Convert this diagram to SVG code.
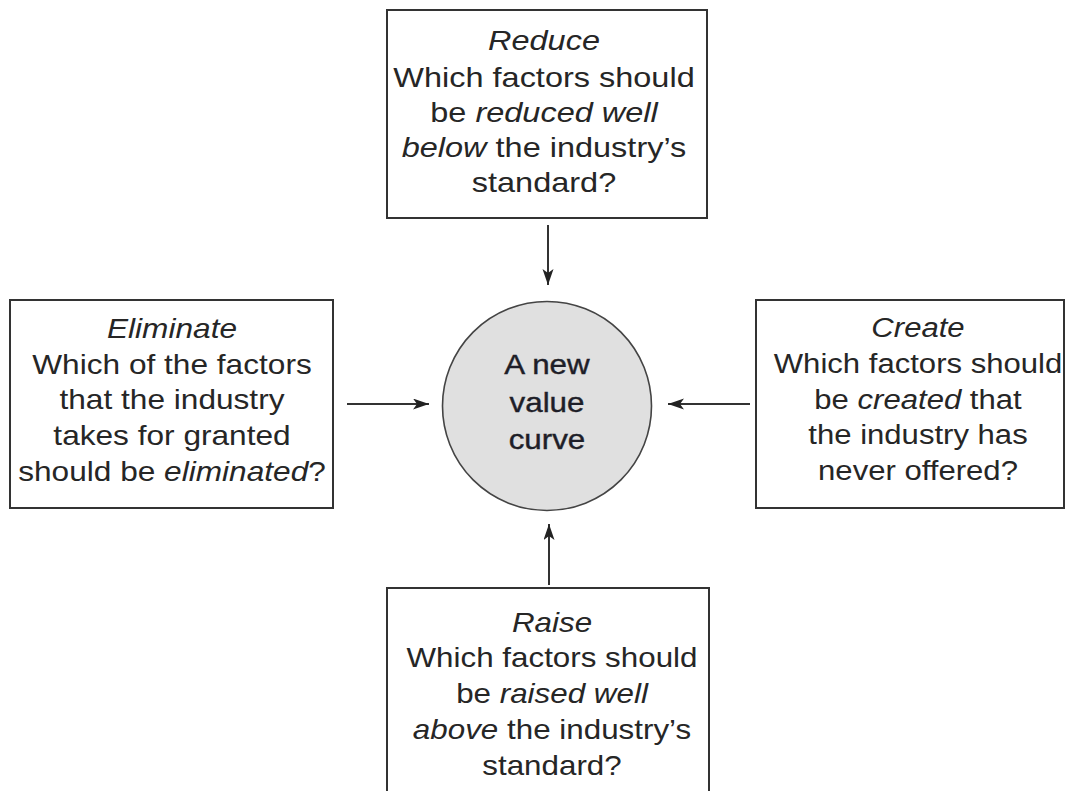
<svg xmlns="http://www.w3.org/2000/svg" width="1067" height="791" viewBox="0 0 1067 791">
<style>
.box{fill:#ffffff;stroke:#333333;stroke-width:2}
.hub{fill:#e0e0e0;stroke:#444444;stroke-width:1.6}
.t{font-family:"Liberation Sans",Arial,Helvetica,sans-serif;font-size:28px;fill:#262626;text-anchor:middle}
.c{font-family:"Liberation Sans",Arial,Helvetica,sans-serif;font-size:28.5px;fill:#1e1e28;text-anchor:middle;stroke:#1e1e28;stroke-width:0.4}
.i{font-style:italic}
.conn{stroke:#333333;stroke-width:2;fill:none;marker-end:url(#ah)}
</style>
<defs>
<marker id="ah" markerUnits="userSpaceOnUse" markerWidth="18" markerHeight="12" refX="16" refY="5.5" orient="auto">
<path d="M0,0 L16,5.5 L0,11 L4,5.5 z" fill="#222222"/>
</marker>
</defs>
<rect width="1067" height="791" fill="#ffffff"/>

<g id="connectors">
<line class="conn" x1="548" y1="225" x2="548" y2="285"/>
<line class="conn" x1="347" y1="404" x2="429" y2="404"/>
<line class="conn" x1="750" y1="404" x2="668" y2="404"/>
<line class="conn" x1="549" y1="585" x2="549" y2="524"/>
</g>

<g id="reduce">
<rect class="box" x="387" y="10" width="320" height="208"/>
<g transform="translate(544,0) scale(1.16,1)">
<text class="t" x="0" y="50"><tspan class="i">Reduce</tspan></text>
<text class="t" x="0" y="87">Which factors should</text>
<text class="t" x="0" y="122">be <tspan class="i">reduced well</tspan></text>
<text class="t" x="0" y="157"><tspan class="i">below</tspan> the industry’s</text>
<text class="t" x="0" y="192">standard?</text>
</g>
</g>

<g id="eliminate">
<rect class="box" x="10" y="300" width="323" height="208"/>
<g transform="translate(172,0) scale(1.13,1)">
<text class="t" x="0" y="338"><tspan class="i">Eliminate</tspan></text>
<text class="t" x="0" y="374">Which of the factors</text>
<text class="t" x="0" y="409">that the industry</text>
<text class="t" x="0" y="445">takes for granted</text>
<text class="t" x="0" y="481">should be <tspan class="i">eliminated</tspan>?</text>
</g>
</g>

<g id="hub">
<circle class="hub" cx="547" cy="406" r="104.5"/>
<g transform="translate(547,0) scale(1.1,1)">
<text class="c" x="0" y="374">A new</text>
<text class="c" x="0" y="412">value</text>
<text class="c" x="0" y="449">curve</text>
</g>
</g>

<g id="create">
<rect class="box" x="756" y="300" width="308" height="208"/>
<g transform="translate(918,0) scale(1.11,1)">
<text class="t" x="0" y="337"><tspan class="i">Create</tspan></text>
<text class="t" x="0" y="373">Which factors should</text>
<text class="t" x="0" y="409">be <tspan class="i">created</tspan> that</text>
<text class="t" x="0" y="444">the industry has</text>
<text class="t" x="0" y="480">never offered?</text>
</g>
</g>

<g id="raise">
<rect class="box" x="387" y="588" width="322" height="230"/>
<g transform="translate(552,0) scale(1.12,1)">
<text class="t" x="0" y="632"><tspan class="i">Raise</tspan></text>
<text class="t" x="0" y="667">Which factors should</text>
<text class="t" x="0" y="703">be <tspan class="i">raised well</tspan></text>
<text class="t" x="0" y="739"><tspan class="i">above</tspan> the industry’s</text>
<text class="t" x="0" y="775">standard?</text>
</g>
</g>
</svg>
